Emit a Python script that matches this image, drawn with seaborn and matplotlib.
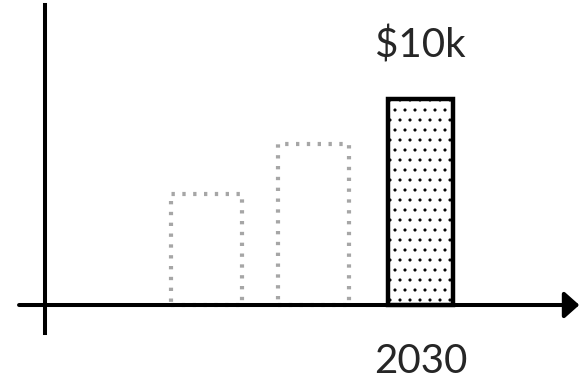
import pandas as pd
import seaborn as sns
import matplotlib.pyplot as plt
import matplotlib.backend_bases as bb

# data
years = ["2010", "2020", "2030"]
values = [5.4, 7.8, 10.0]
tick_labels = ["", "", "2030"]
value_labels = ["", "", "$10k"]

# sparser dot hatch than matplotlib's default density ('..' -> 10 rows)
_hatch_path = bb.GraphicsContextBase.get_hatch_path
bb.GraphicsContextBase.get_hatch_path = lambda self, density=5: _hatch_path(self, density)

sns.set_style("white")
plt.rcParams['font.family'] = ['Lato', 'DejaVu Sans']
plt.rcParams['hatch.linewidth'] = 0.8

df = pd.DataFrame({"year": years, "value": values})

fig = plt.figure(figsize=(5.8, 3.81), dpi=100)
ax = fig.add_axes([0, 0, 1, 1])
sns.barplot(data=df, x="year", y="value", color="white", width=0.67, ax=ax)

# bar styles: first two faded/dotted, last one highlighted
for i, p in enumerate(ax.patches):
    if i < len(ax.patches) - 1:
        p.set_facecolor("white")
        p.set_edgecolor("#a6a6a6")
        p.set_linewidth(3.0)
        p.set_linestyle((0, (0.8, 1.8)))
        p.set_capstyle("butt")
    else:
        cx = p.get_x() + p.get_width() / 2
        p.set_width(0.61)
        p.set_x(cx - 0.305)
        p.set_facecolor("white")
        p.set_edgecolor("black")
        p.set_linewidth(3.2)
        p.set_hatch("..")
        p.set_zorder(3)

ax.set_xlim(-1.93, 3.491)
ax.set_ylim(-3.69, 14.81)

# axes drawn like a hand sketch
for s in ["top", "right", "bottom"]:
    ax.spines[s].set_visible(False)
ax.spines["left"].set_position(("data", -1.509))
ax.spines["left"].set_bounds(-1.36, 14.56)
ax.spines["left"].set_linewidth(2.9)
ax.spines["left"].set_color("black")
ax.annotate("", xy=(3.485, 0), xytext=(-1.752, 0),
            arrowprops=dict(arrowstyle="-|>,head_length=0.45,head_width=0.4",
                            lw=2.9, color="black", mutation_scale=20,
                            shrinkA=0, shrinkB=0), zorder=4)

ax.set_xticks([])
ax.set_yticks([])
ax.set_xlabel("")
ax.set_ylabel("")

for i, (v, lab, tl) in enumerate(zip(values, value_labels, tick_labels)):
    if lab:
        ax.text(i, 12.04, lab, ha="center", va="baseline", fontsize=29)
    if tl:
        ax.text(i, -3.30, tl, ha="center", va="baseline", fontsize=29)

fig.savefig("out.png", dpi=100)
